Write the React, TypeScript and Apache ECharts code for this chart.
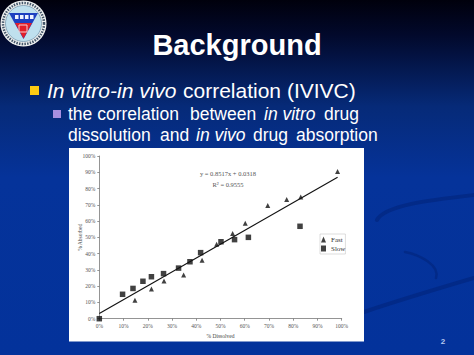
import React, { useEffect, useRef } from "react";
import * as echarts from "echarts";

const slideTitle = "Background";
const fastPoints = [
  [14.7, 11.3], [21.5, 18.2], [26.7, 23.2], [34.8, 26.8], [42.4, 36], [48.4, 45.7],
  [55, 52.3], [60.2, 58.6], [69.5, 69.5], [77.3, 73.2], [83.1, 74.8], [98.3, 90.4],
];
const slowPoints = [
  [0, 0], [9.6, 15], [13.9, 18.6], [18, 23], [21.5, 25.8], [26.5, 27.7], [32.7, 31.1],
  [37.4, 35], [41.8, 40.6], [50.2, 47.3], [55.8, 48.6], [61.5, 50], [82.8, 56.8],
];
const trendPoints = [[0, 3.18], [98.3, 86.9]];

export default function App() {
  const ref = useRef<HTMLDivElement>(null);
  useEffect(() => {
    document.body.style.margin = "0";
    const chart = echarts.init(ref.current!, null, { renderer: "svg" });
    const sans = "Liberation Sans";
    const serif = "Liberation Serif";
    const tick = { fontFamily: serif, fontSize: 5.5, color: "#555", margin: 4, formatter: "{value}%" };
    const axisBase = {
      type: "value", min: 0, max: 100, interval: 10, splitLine: { show: false },
      axisLine: { show: true, lineStyle: { color: "#666", width: 0.7 } },
      axisTick: { show: true, length: 2, lineStyle: { color: "#666", width: 0.7 } },
      axisLabel: tick, nameLocation: "middle", nameMoveOverlap: false,
      nameTextStyle: { fontFamily: serif, fontSize: 5.5, color: "#444" },
    };
    const word = (x: number, y: number, text: string, size: number, italic = false) => ({
      type: "text", x, y,
      style: { text, font: `${italic ? "italic " : ""}${size}px '${sans}'`, fill: "#fff", verticalAlign: "middle" },
    });
    const swoosh = (p1: number[], p2: number[], c1: number[], c2: number[], w: number) => ({
      type: "bezierCurve", z: -9,
      shape: { x1: p1[0], y1: p1[1], x2: p2[0], y2: p2[1], cpx1: c1[0], cpy1: c1[1], cpx2: c2[0], cpy2: c2[1] },
      style: { fill: "none", stroke: "rgba(2,34,120,0.55)", lineWidth: w, lineCap: "round" },
    });
    chart.setOption({
      animation: false,
      graphic: [
        {
          type: "rect", z: -10, shape: { x: 0, y: 0, width: 474, height: 355 },
          style: {
            fill: {
              type: "linear", x: 0, y: 0, x2: 0, y2: 1,
              colorStops: [
                { offset: 0, color: "#00000c" }, { offset: 0.1, color: "#02092c" },
                { offset: 0.3, color: "#062a78" }, { offset: 0.5, color: "#05339a" },
                { offset: 1, color: "#03329b" },
              ],
            },
          },
        },
        swoosh([364, 312], [474, 278], [400, 300], [440, 288], 4),
        swoosh([377, 220], [474, 195], [385, 205], [430, 200], 4),
        swoosh([405, 252], [436, 278], [420, 255], [440, 265], 2.5),
        { type: "rect", z: -5, shape: { x: 69, y: 148, width: 295, height: 193.5 }, style: { fill: "#ffffff" } },
        { type: "circle", shape: { cx: 23.5, cy: 23.5, r: 23 }, style: { fill: "#eef0f0" } },
        { type: "circle", shape: { cx: 23.5, cy: 23.5, r: 20.5 }, style: { fill: "none", stroke: "#44566a", lineWidth: 2.5, lineDash: [1.5, 1.2] } },
        { type: "circle", shape: { cx: 23.5, cy: 23.5, r: 18 }, style: { fill: "#bfe0ee", stroke: "#5a7f9a", lineWidth: 0.6 } },
        { type: "polygon", shape: { points: [[9, 13], [38, 13], [23.5, 39]] }, style: { fill: "#1d3fc0" } },
        { type: "polygon", shape: { points: [[15, 23], [32, 23], [23.5, 38.5]] }, style: { fill: "#e21f2a" } },
        { type: "rect", shape: { x: 19, y: 25, width: 8, height: 7 }, style: { fill: "none", stroke: "#f7d0d0", lineWidth: 1 } },
        { type: "rect", shape: { x: 15, y: 15, width: 3.5, height: 4 }, style: { fill: "#eef2ff" } },
        { type: "rect", shape: { x: 20, y: 15, width: 3.5, height: 4 }, style: { fill: "#eef2ff" } },
        { type: "rect", shape: { x: 25, y: 15, width: 3.5, height: 4 }, style: { fill: "#eef2ff" } },
        { type: "rect", shape: { x: 30, y: 15, width: 3.5, height: 4 }, style: { fill: "#eef2ff" } },
        {
          type: "text", x: 237, y: 45,
          style: {
            text: slideTitle, font: `bold 29px '${sans}'`, fill: "#ffffff", align: "center", verticalAlign: "middle",
            shadowBlur: 2, shadowColor: "#000", shadowOffsetX: 1, shadowOffsetY: 1,
          },
        },
        { type: "rect", shape: { x: 30, y: 86, width: 9, height: 9 }, style: { fill: "#fdcb12" } },
        word(47, 90, "In vitro-in vivo", 21, true),
        word(183, 90, "correlation (IVIVC)", 21),
        { type: "rect", shape: { x: 53, y: 110, width: 8, height: 8 }, style: { fill: "#a78fe0" } },
        word(68, 113.5, "the correlation", 17.5),
        word(190, 113.5, "between", 17.5),
        word(264, 113.5, "in vitro", 17.5, true),
        word(324, 113.5, "drug", 17.5),
        word(68, 135, "dissolution", 17.5),
        word(160, 135, "and", 17.5),
        word(196, 135, "in vivo", 17.5, true),
        word(253, 135, "drug", 17.5),
        word(296, 135, "absorption", 17.5),
        { type: "text", x: 443, y: 341, style: { text: "2", font: `bold 8px '${sans}'`, fill: "#b4c8f0", align: "center", verticalAlign: "middle" } },
        { type: "text", x: 228, y: 173, style: { text: "y = 0.8517x + 0.0318", font: `6.5px '${serif}'`, fill: "#555", align: "center", verticalAlign: "middle" } },
        { type: "text", x: 228, y: 184, style: { text: "R² = 0.9555", font: `6.5px '${serif}'`, fill: "#555", align: "center", verticalAlign: "middle" } },
      ],
      grid: { left: 99.3, right: 474 - 341.7, top: 156, bottom: 355 - 318.7 },
      xAxis: { ...axisBase, name: "% Dissolved", nameGap: 14 },
      yAxis: { ...axisBase, name: "% Absorbed", nameGap: 16 },
      legend: {
        left: 320, top: 234, orient: "vertical", padding: [2, 0, 2, 1], itemGap: 2,
        itemWidth: 5, itemHeight: 6, backgroundColor: "#ffffff", borderColor: "#bbb", borderWidth: 0.5,
        textStyle: { fontFamily: serif, fontSize: 7, color: "#333" },
        data: ["Fast", "Slow"],
      },
      series: [
        {
          type: "line", name: "Trend", data: trendPoints, symbol: "none", silent: true,
          lineStyle: { color: "#111", width: 1.1 },
        },
        { type: "scatter", name: "Fast", data: fastPoints, symbol: "triangle", symbolSize: 5, itemStyle: { color: "#111" } },
        { type: "scatter", name: "Slow", data: slowPoints, symbol: "rect", symbolSize: 5.5, itemStyle: { color: "#111" } },
      ],
    });
    return () => chart.dispose();
  }, []);
  return <div ref={ref} style={{ width: 474, height: 355 }} />;
}
